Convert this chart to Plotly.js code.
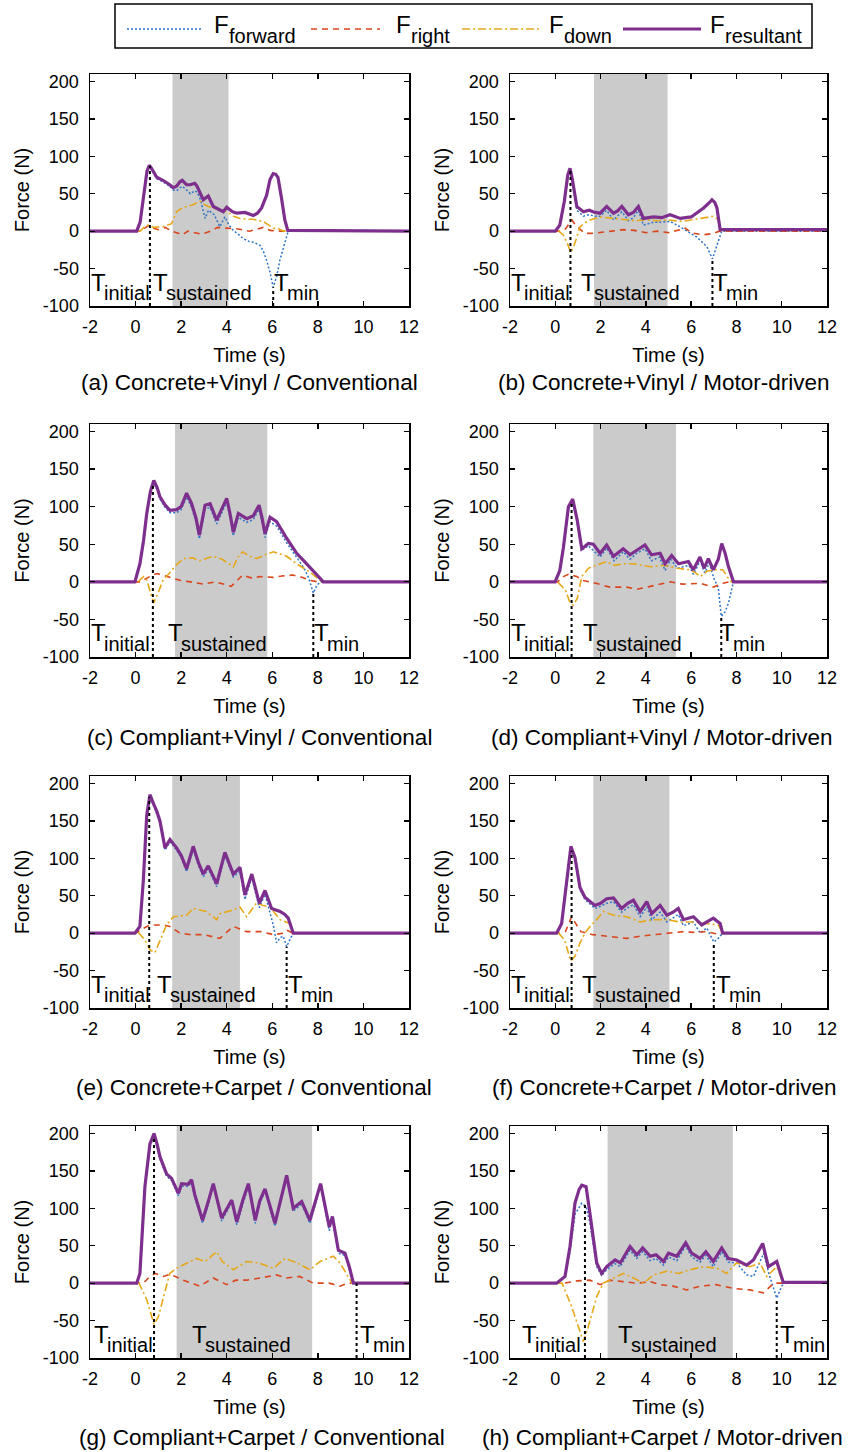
<!DOCTYPE html>
<html><head><meta charset="utf-8">
<script src="https://cdn.plot.ly/plotly-3.0.1.min.js"></script>
<style>html,body{margin:0;padding:0;background:#fff}#chart{width:850px;height:1452px}</style>
</head><body><div id="chart"></div>
<script>
// ---------------- DATA (time s, force N) ----------------
const captions = ['(a) Concrete+Vinyl / Conventional','(b) Concrete+Vinyl / Motor-driven','(c) Compliant+Vinyl / Conventional','(d) Compliant+Vinyl / Motor-driven','(e) Concrete+Carpet / Conventional','(f) Concrete+Carpet / Motor-driven','(g) Compliant+Carpet / Conventional','(h) Compliant+Carpet / Motor-driven'];
const seriesNames = ['forward','right','down','resultant'];
const xTickVals = [-2,0,2,4,6,8,10,12];
const xTickText = ['-2','0','2','4','6','8','10','12'];
const yTickVals = [-100,-50,0,50,100,150,200];
const yTickText = ['-100','-50','0','50','100','150','200'];

const aForward = [[-2,0],[0.05,0],[0.2,10],[0.35,42],[0.5,78],[0.6,87],[0.7,82],[0.93,70],[1.2,66],[1.5,60],[1.65,55],[1.8,54],[1.95,58],[2.05,60],[2.24,55],[2.4,50],[2.6,54],[2.7,52],[2.85,42],[3.05,17],[3.2,28],[3.45,22],[3.7,6],[3.92,19],[4.1,8],[4.29,1],[4.5,-4],[4.73,-10],[5.0,-14],[5.2,-15],[5.46,-19],[5.6,-26],[5.75,-39],[5.9,-55],[6.04,-75],[6.2,-60],[6.33,-39],[6.5,-20],[6.7,0],[12,0]];
const aRight = [[-2,0],[0.2,0],[0.45,5],[0.6,8],[0.8,4],[1.0,2],[1.3,5],[1.6,0],[1.9,-3],[2.05,-5],[2.3,0],[2.6,-2],[2.9,-4],[3.3,0],[3.6,5],[4.0,4],[4.5,3],[5.0,0],[5.3,2],[5.6,5],[5.9,1],[6.2,0],[12,0]];
const aDown = [[-2,0],[0.2,0],[0.4,6],[0.56,8],[0.8,5],[1.2,6],[1.58,10],[1.8,26],[2.0,30],[2.24,33],[2.5,35],[2.82,40],[3.0,36],[3.2,33],[3.5,30],[4.0,26],[4.3,20],[4.58,17],[4.9,16],[5.16,16],[5.4,14],[5.6,13],[5.85,8],[6.04,4],[6.3,3],[6.5,0],[12,0]];
const aResultant = [[-2,0],[0.05,0],[0.2,12],[0.35,45],[0.5,80],[0.6,88],[0.7,84],[0.93,72],[1.2,68],[1.5,62],[1.65,58],[1.8,60],[1.95,66],[2.05,68],[2.24,62],[2.4,62],[2.6,64],[2.7,60],[2.97,42],[3.19,47],[3.3,40],[3.41,33],[3.6,30],[3.85,26],[4.0,32],[4.07,30],[4.25,26],[4.44,24],[4.8,25],[5.17,21],[5.35,24],[5.53,31],[5.75,48],[5.9,69],[6.04,77],[6.15,76],[6.25,72],[6.4,45],[6.55,15],[6.68,1],[12,0]];

const bForward = [[-2,0],[0,0],[0.2,7],[0.4,38],[0.55,72],[0.65,80],[0.75,66],[0.95,28],[1.24,20],[1.5,22],[1.75,20],[1.98,20],[2.27,28],[2.57,15],[2.94,26],[3.23,14],[3.45,18],[3.67,28],[3.89,8],[4.34,12],[4.7,12],[5.07,13],[5.5,6],[5.95,-3],[6.25,-8],[6.5,-15],[6.7,-21],[6.94,-37],[7.2,-12],[7.35,0],[12,0]];
const bRight = [[-2,0],[0.2,0],[0.45,3],[0.73,15],[0.9,8],[1.0,5],[1.3,-3],[1.6,-3],[2.0,-2],[2.5,0],[3.0,2],[3.5,1],[4.0,-2],[4.5,0],[5.0,-2],[5.5,2],[5.7,5],[6.0,-2],[6.5,-5],[7.0,-3],[7.25,0],[12,0]];
const bDown = [[-2,0],[0.15,0],[0.35,-5],[0.5,-14],[0.68,-28],[0.8,-22],[0.95,-8],[1.1,6],[1.3,11],[1.54,15],[1.98,19],[2.5,17],[3.0,15],[3.5,14],[4.0,15],[4.5,14],[5.0,15],[5.6,13],[6.0,15],[6.5,18],[7.0,20],[7.2,15],[7.32,1],[12,1]];
const bResultant = [[-2,0],[0,0],[0.2,8],[0.4,40],[0.55,75],[0.65,84],[0.75,70],[0.95,33],[1.24,26],[1.5,28],[1.75,25],[1.98,24],[2.27,33],[2.57,24],[2.75,27],[2.94,33],[3.23,22],[3.45,25],[3.67,33],[3.89,17],[4.34,19],[4.7,18],[5.07,22],[5.52,17],[6.0,19],[6.3,25],[6.55,31],[6.8,38],[6.92,42],[7.05,38],[7.14,31],[7.28,2],[12,2]];

const cForward = [[-2,0],[-0.03,0],[0.19,22],[0.35,52],[0.49,88],[0.65,117],[0.78,132],[0.95,122],[1.07,110],[1.3,99],[1.51,92],[1.8,92],[2.0,96],[2.24,113],[2.46,99],[2.65,80],[2.8,57],[3.05,97],[3.27,99],[3.56,77],[3.8,93],[4.0,106],[4.15,85],[4.29,61],[4.51,86],[4.88,79],[5.17,83],[5.42,97],[5.55,80],[5.68,59],[5.9,80],[6.19,74],[6.63,52],[7.07,33],[7.4,18],[7.6,5],[7.8,-15],[7.95,-5],[8.1,0],[12,0]];
const cRight = [[-2,0],[0.2,0],[0.5,5],[0.75,9],[0.95,11],[1.4,7],[1.95,2],[2.4,0],[2.97,-3],[3.5,0],[4.2,-6],[4.7,9],[5.1,5],[5.46,7],[6.05,6],[6.5,8],[6.9,9],[7.3,6],[7.65,2],[8.0,0],[12,0]];
const cDown = [[-2,0],[0.1,0],[0.35,7],[0.5,2],[0.65,-14],[0.8,-28],[1.0,-14],[1.2,2],[1.5,12],[1.8,23],[2.1,31],[2.5,32],[2.8,28],[3.1,31],[3.4,34],[3.8,30],[4.29,20],[4.5,33],[4.7,40],[5.0,34],[5.3,31],[5.7,36],[6.05,40],[6.35,37],[6.63,34],[7.07,24],[7.65,13],[8.1,2],[8.2,0],[12,0]];
const cResultant = [[-2,0],[-0.03,0],[0.19,24],[0.35,55],[0.49,91],[0.65,120],[0.8,135],[0.95,125],[1.07,113],[1.3,102],[1.51,95],[1.8,96],[2.0,100],[2.24,118],[2.46,104],[2.65,85],[2.8,62],[3.05,102],[3.27,104],[3.56,82],[3.8,98],[4.0,111],[4.15,90],[4.29,66],[4.51,91],[4.88,84],[5.17,88],[5.42,102],[5.55,85],[5.68,64],[5.9,86],[6.19,80],[6.63,58],[7.07,38],[7.51,24],[7.95,9],[8.24,0],[12,0]];

const dForward = [[-2,0],[-0.01,0],[0.2,13],[0.36,42],[0.58,96],[0.75,108],[0.97,78],[1.17,42],[1.46,48],[1.98,33],[2.27,45],[2.6,28],[3.0,40],[3.3,30],[3.6,38],[3.96,44],[4.25,28],[4.6,33],[4.85,15],[5.1,30],[5.4,18],[5.9,22],[6.1,10],[6.4,28],[6.6,12],[6.8,25],[7.0,5],[7.2,-8],[7.33,-46],[7.5,-40],[7.65,-28],[7.87,0],[12,0]];
const dRight = [[-2,0],[0.1,0],[0.36,7],[0.58,10],[0.95,7],[1.2,2],[1.8,-2],[2.4,-7],[3.15,-7],[3.6,-10],[4.2,-6],[5.1,0],[5.6,-3],[6.4,-2],[6.98,-7],[7.4,-2],[7.7,0],[12,0]];
const dDown = [[-2,0],[0.1,0],[0.45,-11],[0.65,-28],[0.8,-31],[0.97,-22],[1.17,7],[1.46,18],[1.8,22],[2.27,27],[2.6,22],[3.0,24],[3.45,24],[4.2,20],[4.8,22],[5.4,18],[5.95,16],[6.2,12],[6.4,7],[6.7,14],[7.0,16],[7.4,16],[7.7,2],[7.8,0],[12,0]];
const dResultant = [[-2,0],[-0.01,0],[0.2,15],[0.36,46],[0.58,100],[0.77,110],[0.97,82],[1.17,44],[1.3,47],[1.46,51],[1.68,50],[1.98,38],[2.27,49],[2.57,34],[3.0,44],[3.3,36],[3.6,42],[3.96,49],[4.25,36],[4.63,38],[4.85,24],[5.14,35],[5.44,24],[5.88,27],[6.1,16],[6.39,33],[6.57,18],[6.76,31],[6.98,16],[7.2,30],[7.35,51],[7.5,38],[7.65,20],[7.87,0],[12,0]];

const eForward = [[-2,0],[-0.03,0],[0.19,8],[0.34,68],[0.49,155],[0.63,182],[0.8,170],[0.93,160],[1.07,147],[1.29,111],[1.51,122],[1.8,111],[2.0,101],[2.24,82],[2.53,112],[2.75,91],[2.97,75],[3.19,86],[3.56,62],[3.92,104],[4.29,75],[4.58,83],[4.8,45],[5.1,74],[5.43,34],[5.68,52],[5.9,26],[6.05,10],[6.19,-13],[6.35,-6],[6.48,-4],[6.63,-18],[6.78,-8],[6.92,0],[12,0]];
const eRight = [[-2,0],[0,0],[0.2,4],[0.63,11],[1.2,11],[1.5,9],[1.95,0],[2.4,-2],[3.0,-2],[3.7,-7],[4.29,9],[4.87,2],[5.5,2],[6.05,-2],[6.48,0],[6.63,4],[6.92,0],[12,0]];
const eDown = [[-2,0],[0.15,0],[0.41,-9],[0.63,-22],[0.85,-26],[1.07,-9],[1.36,11],[1.66,22],[2.24,24],[2.53,33],[3.1,29],[3.56,18],[3.7,26],[4.29,31],[4.58,35],[4.87,22],[5.3,40],[5.6,37],[5.9,35],[6.34,18],[6.77,13],[6.92,0],[12,0]];
const eResultant = [[-2,0],[-0.03,0],[0.19,9],[0.34,70],[0.49,158],[0.63,185],[0.8,172],[0.93,163],[1.07,150],[1.29,114],[1.51,125],[1.8,114],[2.0,104],[2.24,86],[2.53,116],[2.75,95],[2.97,79],[3.19,90],[3.56,66],[3.92,108],[4.29,79],[4.58,88],[4.8,51],[5.1,79],[5.43,40],[5.68,57],[5.97,33],[6.34,29],[6.55,25],[6.7,20],[6.92,0],[12,0]];

const fForward = [[-2,0],[0.06,0],[0.28,12],[0.5,67],[0.69,113],[0.87,98],[1.09,58],[1.31,45],[1.75,33],[2.0,36],[2.27,40],[2.57,42],[2.93,28],[3.2,34],[3.45,38],[3.75,22],[4.04,35],[4.26,18],[4.63,28],[4.93,15],[5.2,20],[5.43,25],[5.66,10],[6.1,15],[6.4,0],[6.69,7],[7.0,-12],[7.2,-7],[7.39,0],[12,0]];
const fRight = [[-2,0],[0.2,0],[0.45,2],[0.72,22],[0.9,13],[1.13,2],[1.66,-2],[2.27,-4],[3.15,-7],[3.75,-4],[4.5,-2],[5.1,0],[5.66,2],[6.1,1],[6.69,2],[6.98,0],[7.25,-2],[7.39,0],[12,0]];
const fDown = [[-2,0],[0.15,0],[0.41,-9],[0.68,-37],[0.87,-31],[1.09,-13],[1.31,0],[1.53,9],[1.83,18],[2.12,29],[2.57,24],[3.15,22],[3.75,15],[4.3,18],[4.9,18],[5.5,15],[6.1,15],[6.69,13],[7.2,11],[7.39,0],[12,0]];
const fResultant = [[-2,0],[0.06,0],[0.28,13],[0.5,70],[0.69,116],[0.87,101],[1.09,61],[1.31,48],[1.75,37],[2.0,40],[2.27,46],[2.57,47],[2.93,33],[3.2,40],[3.45,44],[3.75,29],[4.04,42],[4.26,26],[4.63,37],[4.93,24],[5.2,28],[5.43,33],[5.66,18],[6.1,22],[6.47,11],[6.75,16],[6.98,20],[7.28,13],[7.39,0],[12,0]];

const gForward = [[-2,0],[0.05,0],[0.19,12],[0.41,126],[0.63,183],[0.81,197],[0.95,182],[1.07,166],[1.36,143],[1.58,137],[1.88,117],[2.02,130],[2.3,129],[2.46,135],[2.6,115],[2.94,80],[3.2,106],[3.41,130],[3.78,83],[4.0,96],[4.22,108],[4.44,78],[4.7,106],[4.95,130],[5.25,80],[5.45,106],[5.68,123],[6.12,76],[6.4,112],[6.63,141],[6.92,96],[7.29,106],[7.65,80],[7.9,106],[8.12,130],[8.5,70],[8.64,86],[8.9,40],[9.19,37],[9.38,18],[9.56,0],[12,0]];
const gRight = [[-2,0],[0.34,0],[0.6,8],[0.85,13],[1.22,9],[1.51,12],[2.1,4],[2.82,-4],[3.41,7],[4.0,-2],[4.4,4],[4.88,4],[5.5,7],[6.19,11],[6.63,7],[7.2,9],[7.8,0],[8.5,0],[8.97,-4],[9.3,0],[12,0]];
const gDown = [[-2,0],[0.15,0],[0.49,-22],[0.81,-55],[1.0,-45],[1.2,-22],[1.5,13],[1.8,20],[2.24,27],[2.68,33],[3.05,29],[3.56,42],[3.8,29],[4.29,18],[4.88,29],[5.4,27],[6.05,20],[6.56,33],[7.1,27],[7.65,18],[8.1,29],[8.68,36],[8.97,27],[9.26,13],[9.5,0],[12,0]];
const gResultant = [[-2,0],[0.05,0],[0.19,13],[0.41,129],[0.63,186],[0.81,200],[0.95,185],[1.07,169],[1.36,146],[1.58,140],[1.88,120],[2.02,133],[2.3,132],[2.46,138],[2.6,118],[2.94,84],[3.2,110],[3.41,133],[3.78,87],[4.0,100],[4.22,111],[4.44,82],[4.7,110],[4.95,133],[5.25,84],[5.45,110],[5.68,126],[6.12,80],[6.4,115],[6.63,144],[6.92,100],[7.29,109],[7.65,84],[7.9,110],[8.12,133],[8.5,75],[8.64,89],[8.9,44],[9.19,40],[9.38,22],[9.56,0],[12,0]];

const hForward = [[-2,0],[0.06,0],[0.43,8],[0.65,42],[0.87,92],[1.17,107],[1.36,102],[1.53,80],[1.83,22],[2.05,10],[2.27,18],[2.64,26],[2.87,22],[3.3,44],[3.6,33],[3.86,42],[4.19,30],[4.45,33],[4.78,24],[5.0,35],[5.37,30],[5.76,50],[6.02,35],[6.39,28],[6.65,37],[6.98,22],[7.35,42],[7.64,28],[8.01,27],[8.45,11],[8.75,9],[9.2,40],[9.45,11],[9.78,-20],[10.0,-4],[10.1,0],[12,0]];
const hRight = [[-2,0],[0.4,0],[0.95,3],[1.53,4],[1.98,-2],[2.42,4],[3.0,2],[3.6,0],[4.2,2],[4.63,-2],[5.2,-4],[5.8,-9],[6.4,-4],[7.1,-2],[7.86,-7],[8.6,-9],[9.19,-13],[9.4,-7],[9.65,0],[12,0]];
const hDown = [[-2,0],[0.3,0],[0.72,-31],[1.02,-58],[1.24,-78],[1.46,-58],[1.83,-18],[2.12,0],[2.57,7],[3.0,13],[3.45,7],[3.9,0],[4.34,11],[4.93,16],[5.45,13],[5.96,18],[6.54,22],[7.13,20],[7.57,13],[8.0,27],[8.6,22],[9.04,27],[9.34,9],[9.78,22],[10.07,0],[12,1]];
const hResultant = [[-2,0],[0.06,0],[0.43,9],[0.65,49],[0.87,107],[1.05,125],[1.17,131],[1.36,129],[1.53,93],[1.83,27],[2.05,13],[2.27,22],[2.64,31],[2.87,27],[3.3,49],[3.6,38],[3.86,47],[4.19,36],[4.45,38],[4.78,29],[5.0,40],[5.37,36],[5.76,54],[6.02,40],[6.39,33],[6.65,42],[6.98,29],[7.35,47],[7.64,33],[8.01,31],[8.45,24],[8.75,31],[9.16,53],[9.41,22],[9.78,29],[10.07,1],[12,1]];

// phase markers per panel (a..h)
const tInitial = [0.63, 0.67, 0.76, 0.72, 0.6, 0.72, 0.81, 1.31];
const initialLevel = [87, 82, 130, 104, 182, 110, 195, 106];
const tMin = [6.04, 6.94, 7.8, 7.33, 6.63, 7.0, 9.7, 9.78];
const minLevel = [-75, -37, -15, -46, -18, -12, 0, -20];
const sustainedStart = [1.62, 1.71, 1.73, 1.68, 1.61, 1.68, 1.8, 2.31];
const sustainedEnd = [4.08, 4.96, 5.78, 5.33, 4.58, 5.04, 7.75, 7.84];

// ---------------- LAYOUT CONFIG ----------------
const panelSeries = [
  [aForward, aRight, aDown, aResultant],
  [bForward, bRight, bDown, bResultant],
  [cForward, cRight, cDown, cResultant],
  [dForward, dRight, dDown, dResultant],
  [eForward, eRight, eDown, eResultant],
  [fForward, fRight, fDown, fResultant],
  [gForward, gRight, gDown, gResultant],
  [hForward, hRight, hDown, hResultant]
];
const FONT = '"Liberation Sans", Arial, Helvetica, sans-serif';
const W = 850, H = 1452;
const colLeft = [90, 510], colRight = [409, 827];
const rowTop = [74, 424, 776, 1126], rowBottom = [306, 657, 1008, 1358];
const captionY = [382, 737, 1087, 1437];
const captionX = [249.5, 664, 259, 662, 254, 664, 262, 662];
const initLabelX = [-2, -2, -2, -2, -2, -2, -1.88, -1.53];
const sustLabelX = [0.70, 1.07, 1.38, 1.18, 0.9, 1.14, 2.43, 2.71];
const minLabelX = [6.04, 6.94, 7.78, 7.23, 6.66, 7.05, 9.82, 9.9];
const styles = [
  {color:'#2f74c6', width:1.5, dash:'2px,2px'},
  {color:'#d9461c', width:1.6, dash:'6px,5px'},
  {color:'#e6a81a', width:1.6, dash:'8px,3px,2px,3px'},
  {color:'#7e2f8e', width:3.2, dash:'solid'}
];
const yRange = [-100, 210];

const traces = [], shapes = [], annotations = [];
const layout = {
  width: W, height: H, margin:{l:0,r:0,t:0,b:0},
  paper_bgcolor:'#fff', plot_bgcolor:'#fff', showlegend:false,
  font:{family:FONT, color:'#000'}
};

function axisCommon() {
  return {ticks:'inside', ticklen:5, tickwidth:1.3, tickcolor:'#000', showline:true, linecolor:'#000', linewidth:1.5,
    mirror:'ticks', showgrid:false, zeroline:false, fixedrange:true,
    tickfont:{family:FONT, size:18, color:'#000'}};
}

for (let i = 0; i < 8; i++) {
  const r = Math.floor(i/2), c = i % 2;
  const sx = i === 0 ? '' : String(i+1);
  const xa = 'x'+sx, ya = 'y'+sx;
  layout['xaxis'+sx] = Object.assign(axisCommon(), {
    domain:[colLeft[c]/W, colRight[c]/W], anchor:ya, range:[-2,12],
    tickmode:'array', tickvals:xTickVals, ticktext:xTickText, ticklabelstandoff:4,
    title:{text:'Time (s)', font:{family:FONT, size:20, color:'#000'}, standoff:12}
  });
  layout['yaxis'+sx] = Object.assign(axisCommon(), {
    domain:[1-rowBottom[r]/H, 1-rowTop[r]/H], anchor:xa, range:yRange,
    tickmode:'array', tickvals:yTickVals, ticktext:yTickText, ticklabelstandoff:6,
    title:{text:'Force (N)', font:{family:FONT, size:20, color:'#000'}, standoff:8}
  });
  // sustained window
  shapes.push({type:'rect', xref:xa, yref:ya+' domain', x0:sustainedStart[i], x1:sustainedEnd[i], y0:0, y1:1,
    fillcolor:'#cbcbcb', line:{width:0}, layer:'below'});
  // force series
  panelSeries[i].forEach((s, k) => {
    traces.push({type:'scatter', mode:'lines', name:'F'+seriesNames[k], xaxis:xa, yaxis:ya,
      x:s.map(p=>p[0]), y:s.map(p=>p[1]), line:Object.assign({shape:'linear'}, styles[k]), hoverinfo:'skip'});
  });
  // marker lines
  traces.push({type:'scatter', mode:'lines', xaxis:xa, yaxis:ya, x:[tInitial[i], tInitial[i]], y:[yRange[0], initialLevel[i]],
    line:{color:'#000', width:2, dash:'3px,3px'}, hoverinfo:'skip'});
  traces.push({type:'scatter', mode:'lines', xaxis:xa, yaxis:ya, x:[tMin[i], tMin[i]], y:[yRange[0], minLevel[i]],
    line:{color:'#000', width:2, dash:'3px,3px'}, hoverinfo:'skip'});
  // T labels
  [[initLabelX[i],'initial'],[sustLabelX[i],'sustained'],[minLabelX[i],'min']].forEach(([lx, sub]) => {
    annotations.push({xref:xa, yref:ya, x:lx, y:-68, text:'T', showarrow:false, xanchor:'left', yanchor:'middle',
      xshift:-1, font:{family:FONT, size:24, color:'#000'}});
    annotations.push({xref:xa, yref:ya, x:lx, y:-83, text:sub, showarrow:false, xanchor:'left', yanchor:'middle',
      xshift:12, font:{family:FONT, size:20, color:'#000'}});
  });
  // caption
  annotations.push({xref:'paper', yref:'paper', x:captionX[i]/W, y:1-captionY[r]/H, text:captions[i], showarrow:false,
    xanchor:'center', yanchor:'middle', font:{family:FONT, size:22.5, color:'#000'}});
}

// legend (drawn as a framed key)
const legLine = [[127,203],[311,380],[462,540],[623,701]];
const legText = [212, 394, 547, 708];
shapes.push({type:'rect', xref:'paper', yref:'paper', x0:115/W, x1:812/W, y0:1-48/H, y1:1-4/H, line:{color:'#000', width:1.5}, fillcolor:'rgba(0,0,0,0)'});
seriesNames.forEach((nm, k) => {
  shapes.push({type:'line', xref:'paper', yref:'paper', x0:legLine[k][0]/W, x1:legLine[k][1]/W, y0:1-29/H, y1:1-29/H,
    line:{color:styles[k].color, width:styles[k].width, dash:styles[k].dash}});
  annotations.push({xref:'paper', yref:'paper', x:legText[k]/W, y:1-24.7/H, text:'F', showarrow:false, xanchor:'left', yanchor:'middle',
    font:{family:FONT, size:24, color:'#000'}});
  annotations.push({xref:'paper', yref:'paper', x:(legText[k]+15)/W, y:1-36/H, text:nm, showarrow:false, xanchor:'left', yanchor:'middle',
    font:{family:FONT, size:20, color:'#000'}});
});

layout.shapes = shapes;
layout.annotations = annotations;
Plotly.newPlot('chart', traces, layout, {staticPlot:true, displayModeBar:false});
</script>
</body></html>
